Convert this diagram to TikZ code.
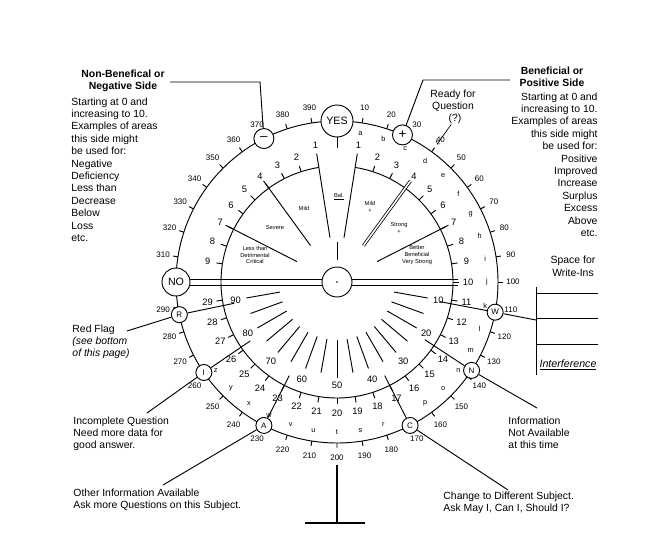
\documentclass[tikz,border=0pt]{standalone}
\usepackage{fontspec}
\setmainfont{Liberation Sans}
\usetikzlibrary{calc}
\begin{document}
\begin{tikzpicture}[x=0.75pt,y=0.75pt,line width=0.7pt,
  mk/.style={circle,draw,fill=white,inner sep=0pt,minimum size=12pt,font=\fontsize{6}{6}\selectfont},
  bigmk/.style={circle,draw,fill=white,inner sep=0pt,font=\fontsize{8}{8}\selectfont},
  txt/.style={font=\fontsize{7.8}{9.3}\selectfont,inner sep=0pt},
  onum/.style={font=\fontsize{6}{6}\selectfont,inner sep=0pt},
  inum/.style={font=\fontsize{7}{7}\selectfont,inner sep=0pt},
  lett/.style={font=\fontsize{5.5}{5.5}\selectfont,inner sep=0pt},
  sect/.style={font=\fontsize{4.3}{5}\selectfont\rmfamily,inner sep=0pt,align=center}]
\useasboundingbox (0,0) rectangle (654,544);
\coordinate (C) at (337,262);
% band
\draw (190,265) -- (458,265);
\draw (190,259) -- (458,259);
% outer circle
\draw (C) circle (161);
\foreach \v in {10,20,...,390}{
  \pgfmathsetmacro\a{90-0.9*\v}
  \draw ($(C)+(\a:161)$) -- ($(C)+(\a:166)$);
  \ifnum\v=300\else\node[onum] at ($(C)+(\a:176)$) {\v};\fi
}
\foreach \l [count=\k] in {a,b,c,d,e,f,g,h,i,j,k,l,m,n,o,p,q,r,s,t,u,v,w,x,y,z}{
  \pgfmathsetmacro\a{90-9*\k}
  \ifnum\k=17\else\node[lett] at ($(C)+(\a:150)$) {\l};\fi
}
% inner circle
\draw ($(C)+(99:116)$) arc[start angle=99,end angle=441,radius=116];
\foreach \n in {2,...,29}{
  \pgfmathsetmacro\a{90-9*\n}
  \draw ($(C)+(\a:116)$) -- ($(C)+(\a:122)$);
  \node[inum] at ($(C)+(\a:131)$) {\n};
}
\foreach \n in {2,...,9}{
  \pgfmathsetmacro\a{90+9*\n}
  \draw ($(C)+(\a:116)$) -- ($(C)+(\a:122)$);
  \node[inum] at ($(C)+(\a:131)$) {\n};
}
\node[inum] at ($(C)+(81:138)$) {1};
\node[inum] at ($(C)+(99:138)$) {1};
% upper sector lines
\draw ($(C)+(99:45)$) -- ($(C)+(99:130)$);
\draw ($(C)+(81:45)$) -- ($(C)+(81:130)$);
\foreach \a in {126,153,27}{\draw ($(C)+(\a:45)$) -- ($(C)+(\a:125)$);}
\draw[double,double distance=1.2pt,line width=0.6pt] ($(C)+(54:45)$) -- ($(C)+(54:125)$);
\draw ($(C)+(90:22)$) -- ($(C)+(90:40)$);
\draw ($(C)+(90:134)$) -- ($(C)+(90:145)$);
\node[sect] at (339,347) {\underline{Bal.}};
\node[sect] at (304,336) {Mild};
\node[sect] at (370,337) {Mild\\+};
\node[sect] at (275,316) {Severe};
\node[sect] at (399,316) {Strong\\+};
\node[sect] at (255,289) {Less than\\Detrimental\\Critical};
\node[sect] at (417,289) {Better\\Beneficial\\Very Strong};
% lower radial lines
\foreach \a in {-10,-20,...,-170}{\draw ($(C)+(\a:58)$) -- ($(C)+(\a:92)$);}
\draw ($(C)+(-90:58)$) -- ($(C)+(-90:96)$);
\foreach \a/\t in {-10/10,-30/20,-50/30,-70/40,-90/50,-110/60,-130/70,-150/80,-170/90}{
  \node[inum] at ($(C)+(\a:103)$) {\t};}
% center
\draw[fill=white] (C) circle (15);
\fill (C) circle (0.8);
% markers
\node[bigmk,minimum size=24pt] (YES) at ($(C)+(90:161)$) {YES};
\node[bigmk,minimum size=21pt] (NO) at ($(C)+(180:161)$) {NO};
\node[bigmk,minimum size=15pt,font=\fontsize{10}{10}\selectfont] (MI) at ($(C)+(117:161)$) {--};
\node[bigmk,minimum size=15pt,font=\fontsize{10}{10}\selectfont] (PL) at ($(C)+(66:161)$) {+};
\node[mk] (R) at ($(C)+(-168.3:161)$) {R};
\node[mk] (I) at ($(C)+(-145.8:161)$) {I};
\node[mk] (A) at ($(C)+(-117:161)$) {A};
\node[mk] (Cc) at ($(C)+(-63:161)$) {C};
\node[mk] (N) at ($(C)+(-33.3:161)$) {N};
\node[mk] (W) at ($(C)+(-10.8:161)$) {W};
\foreach \m/\a in {R/-168.3,I/-145.8,A/-117,Cc/-63,N/-33.3,W/-10.8}{
  \draw (\m) -- ($(C)+(\a:105)$);}
% outward connectors
\coordinate (mi1) at (260,462); \coordinate (mi2) at (170,462);
\draw (MI) -- (mi1) -- (mi2);
\coordinate (pl1) at (423,464); \coordinate (pl2) at (510,464);
\draw (PL) -- (pl1) -- (pl2);
\coordinate (r1) at (127,213); \draw (R) -- (r1);
\coordinate (i1) at (147,131); \draw (I) -- (i1);
\coordinate (a1) at (163,59); \draw (A) -- (a1);
\coordinate (c1) at (508,54); \draw (Cc) -- (c1);
\coordinate (n1) at (537,136); \draw (N) -- (n1);
\coordinate (w1) at (536,224); \draw (W) -- (w1);
% write-ins
\draw (536,257) -- (536,169);
\foreach \y in {251,226,200}{\draw (536,\y) -- (598,\y);}
\node[font=\fontsize{8}{8}\selectfont\itshape\rmfamily,inner sep=0pt] at (568,179) {\underline{Interference}};
% stem
\coordinate (s1) at (337,79); \coordinate (s2) at (337,21);
\draw[line width=1pt] (s1) -- (s2);
\draw[line width=1pt] (305,21) -- (365,21);
% texts
\node[txt,font=\fontsize{7.8}{9.3}\selectfont\bfseries,align=center,anchor=north] at (123,475) {Non-Benefical or\\Negative Side};
\node[txt,align=left,anchor=north west] at (71,447) {Starting at 0 and\\increasing to 10.\\Examples of areas\\this side might\\be used for:\\Negative\\Deficiency\\Less than\\Decrease\\Below\\Loss\\etc.};
\node[txt,font=\fontsize{7.8}{9.3}\selectfont\bfseries,align=center,anchor=north] at (552,478) {Beneficial or\\Positive Side};
\node[txt,align=right,anchor=north east] at (598,452) {Starting at 0 and\\increasing to 10.\\Examples of areas\\this side might\\be used for:\\Positive\\Improved\\Increase\\Surplus\\Excess\\Above\\etc.};
\node[txt,align=center,anchor=north] at (453,455) {Ready for\\Question};
\node[txt] (q) at (455,425) {(?)};
\coordinate (q40) at ($(C)+(54:170)$);
\draw[->,line width=0.5pt] (q) -- (q40);
\node[txt,align=center,anchor=north] at (573,288) {Space for\\Write-Ins};
\node[txt,align=left,anchor=north west] at (72,220) {Red Flag\\\itshape (see bottom\\\itshape of this page)};
\node[txt,align=left,anchor=north west] at (73,128) {Incomplete Question\\Need more data for\\good answer.};
\node[txt,align=left,anchor=north west] at (73,56) {Other Information Available\\Ask more Questions on this Subject.};
\node[txt,align=left,anchor=north west] at (508,128) {Information\\Not Available\\at this time};
\node[txt,align=left,anchor=north west] at (443,53) {Change to Different Subject.\\Ask May I, Can I, Should I?};
\end{tikzpicture}
\end{document}
